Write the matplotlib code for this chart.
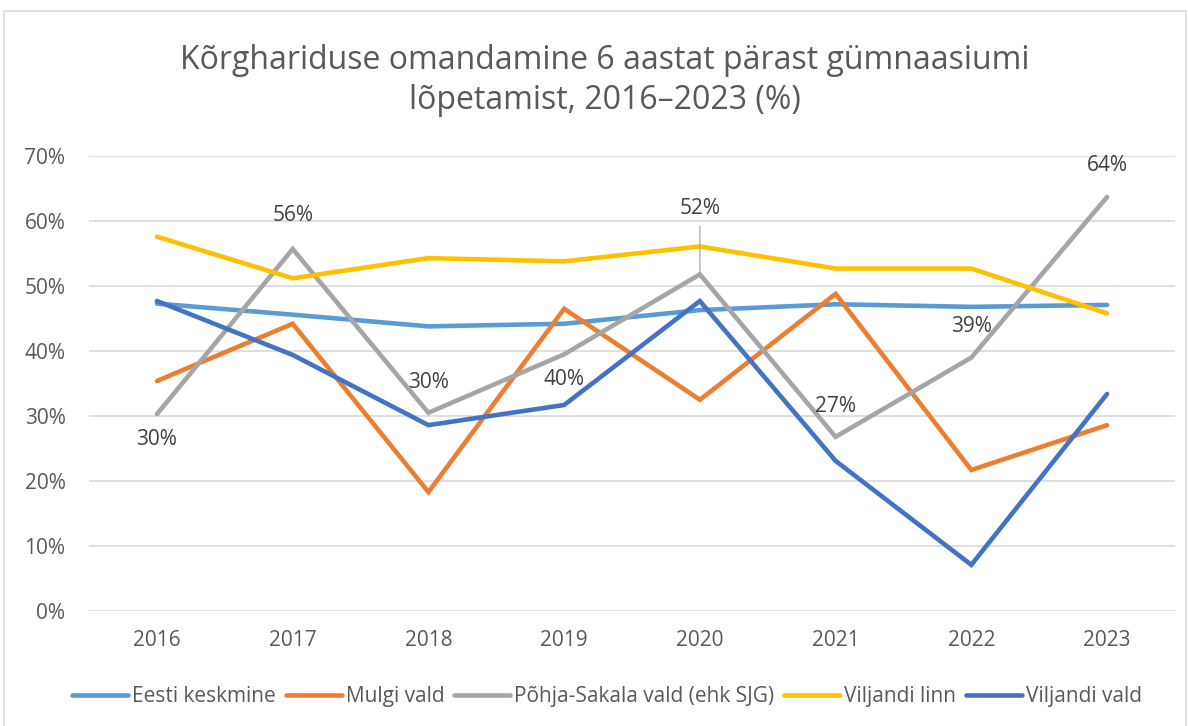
import matplotlib.pyplot as plt
import numpy as np

plt.rcParams['font.family'] = ['Open Sans', 'DejaVu Sans']

years = ['2016', '2017', '2018', '2019', '2020', '2021', '2022', '2023']

eesti = [47.3, 45.6, 43.8, 44.2, 46.3, 47.2, 46.8, 47.1]
mulgi = [35.4, 44.2, 18.3, 46.5, 32.5, 48.8, 21.7, 28.6]
pohja = [30.3, 55.7, 30.5, 39.5, 51.8, 26.8, 39.0, 63.7]
vlinn = [57.6, 51.2, 54.3, 53.8, 56.1, 52.7, 52.7, 45.8]
vvald = [47.7, 39.4, 28.6, 31.7, 47.7, 23.1, 7.1, 33.4]

series = [
    ('Eesti keskmine', eesti, '#5B9BD5'),
    ('Mulgi vald', mulgi, '#ED7D31'),
    ('Põhja-Sakala vald (ehk SJG)', pohja, '#A5A5A5'),
    ('Viljandi linn', vlinn, '#FFC000'),
    ('Viljandi vald', vvald, '#4472C4'),
]

fig = plt.figure(figsize=(11.88, 7.26), dpi=100)
ax = fig.add_axes([0.075, 0.1584, 0.914, 0.6266])

x = np.arange(len(years))
for name, vals, col in series:
    ax.plot(x, vals, color=col, lw=3.3, label=name, solid_capstyle='round',
            solid_joinstyle='miter')

# andmesildid hallil joonel (nihe punktides)
lbl_off = [-18, 24, 22, -18, 47.5, 22, 22, 23]
for i, v in enumerate(pohja):
    ax.annotate('%d%%' % round(v), (x[i], v), xytext=(0, lbl_off[i]),
                textcoords='offset points', ha='center', va='center',
                fontsize=15, color='#404040')
# juhtjoon 2020 sildini
ax.annotate('', (x[4], pohja[4]), xytext=(0, 34.5), textcoords='offset points',
            arrowprops=dict(arrowstyle='-', color='#A5A5A5', lw=0.9,
                            shrinkA=0, shrinkB=0))

ax.set_xlim(-0.5, len(years) - 0.5)
ax.set_ylim(0, 70)
ax.set_yticks(np.arange(0, 71, 10))
ax.set_yticklabels(['%d%%' % t for t in range(0, 71, 10)])
ax.set_xticks(x)
ax.set_xticklabels(years)
ax.tick_params(length=0, labelsize=15, colors='#595959', pad=14)
ax.tick_params(axis='y', pad=17)
ax.grid(axis='y', color='#D9D9D9', lw=1.2)
ax.set_axisbelow(True)
for s in ax.spines.values():
    s.set_visible(False)

fig.text(0.509, 0.917, 'Kõrghariduse omandamine 6 aastat pärast gümnaasiumi',
         ha='center', va='center', fontsize=23, color='#595959')
fig.text(0.509, 0.862, 'lõpetamist, 2016–2023 (%)',
         ha='center', va='center', fontsize=23, color='#595959')

fig.legend(loc='center', bbox_to_anchor=(0.511, 0.04), ncol=5, frameon=False,
           fontsize=15, handlelength=2.7, handletextpad=0.2, columnspacing=0.45,
           labelcolor='#595959')

# raam ümber joonise
fig.patches.append(plt.Rectangle((0.0034, -0.01), 0.9945, 0.995, transform=fig.transFigure,
                                 fill=False, edgecolor='#D9D9D9', lw=1.2))

fig.savefig('out.png', dpi=100)
